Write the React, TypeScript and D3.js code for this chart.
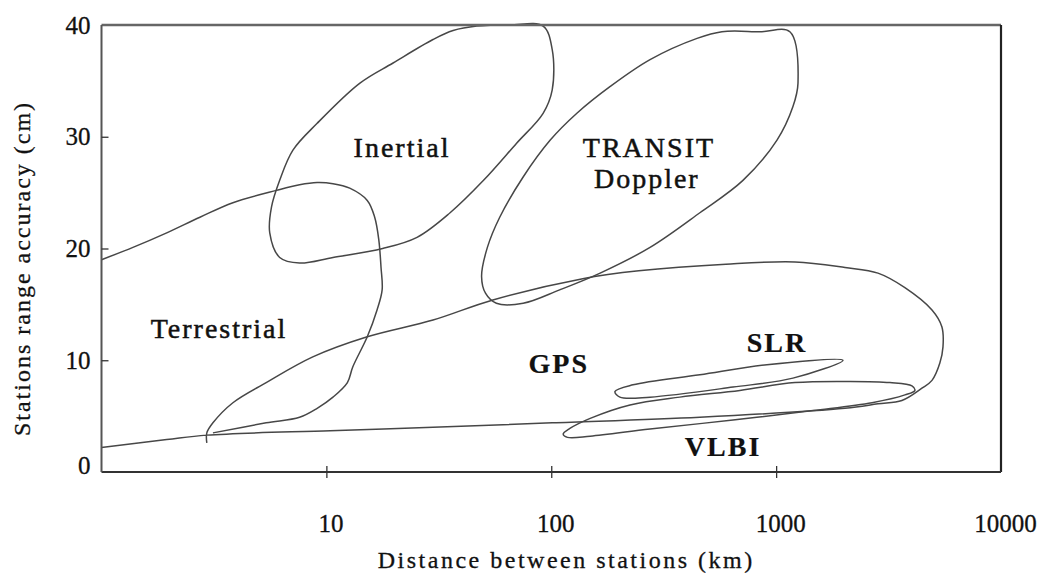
import * as d3 from 'd3'
import { useEffect, useRef } from 'react'

// [distance between stations (km), range accuracy (cm)]
type Pt = [number, number]

const xTickValues = [10, 100, 1000, 10000]
const xTickLabels = ['10', '100', '1000', '10000']
const yTickValues = [0, 10, 20, 30, 40]
const yTickLabels = ['0', '10', '20', '30', '40']

// closed loops
const inertial: Pt[] = [
  [36.6, 39.5], [46.7, 39.9], [65.5, 40.0], [92, 39.9], [101, 37.8], [101, 34.2],
  [92, 32.1], [70, 29.4], [50, 26.1], [35.5, 23.2], [25.3, 21.0], [17.8, 20.0],
  [10.7, 19.2], [7.6, 18.7], [6.2, 19.2], [5.6, 21.4], [5.7, 23.7], [6.2, 26.1],
  [7.1, 28.8], [9.1, 31.2], [14.1, 34.8], [19.8, 36.6], [29.8, 38.7],
]
const transit: Pt[] = [
  [1151, 39.4], [1251, 34.8], [1188, 32.7], [1009, 29.7], [712, 26.1], [458, 23.2],
  [275, 20.1], [165, 17.8], [109, 16.3], [75, 15.1], [57, 15.1], [51, 16.0],
  [49, 17.5], [52, 20.1], [59, 22.8], [75, 26.4], [99, 29.7], [130, 32.1],
  [183, 34.5], [275, 36.9], [445, 38.8], [574, 39.4], [850, 39.4],
]
const slr: Pt[] = [
  [192, 7.2], [231, 7.8], [458, 8.7], [910, 9.6], [1982, 10.0], [1188, 8.4],
  [643, 7.6], [275, 6.7], [202, 6.7],
]
const vlbi: Pt[] = [
  [113, 3.4], [121, 3.9], [149, 4.8], [224, 6.0], [373, 6.7], [690, 7.3],
  [1213, 8.0], [2128, 8.1], [3206, 8.0], [4018, 7.7], [4140, 7.3], [3740, 6.9],
  [2670, 6.2], [1460, 5.5], [643, 4.65], [275, 3.85], [149, 3.2], [118, 3.1],
]

// open curves
const terrestrial: Pt[] = [
  [1, 19.0], [1.38, 20.1], [1.95, 21.4], [2.74, 22.8], [3.84, 24.1], [6.0, 25.2],
  [7.6, 25.7], [9.1, 25.9], [10.7, 25.8], [12.7, 25.4], [15.2, 24.3], [16.4, 22.8],
  [17.1, 20.8], [17.5, 18.3], [17.7, 16.3], [16.8, 14.5], [15.2, 12.1], [13.1, 9.4],
  [12.4, 8.0], [10.7, 6.7], [9.1, 5.7], [7.6, 4.9], [5.4, 4.4], [3.13, 3.5],
]
const gps: Pt[] = [
  [1, 2.2], [1.95, 2.9], [2.94, 3.3], [10.4, 3.7], [29.8, 4.0], [101, 4.4],
  [458, 4.9], [2024, 5.7], [2837, 6.1], [3625, 6.4], [4450, 7.5], [4933, 8.2],
  [5346, 9.75], [5521, 11.2], [5458, 13.0], [4933, 14.5], [3738, 16.5], [2837, 17.8],
  [2024, 18.3], [1213, 18.8], [598, 18.6], [245, 18.0], [138, 17.3], [55, 15.4],
  [29.8, 13.6], [15.2, 12.1], [8.7, 10.3], [5.4, 8.0], [3.84, 6.2], [3.13, 4.4],
  [2.94, 3.5], [2.94, 2.6],
]

const labelNames = ['Inertial', 'TRANSIT', 'Doppler', 'Terrestrial', 'GPS', 'SLR', 'VLBI']
const labelAt: Pt[] = [
  [21.7, 28.2], [272, 28.2], [266, 25.4], [3.33, 12.0], [108, 8.86], [1009, 10.74], [581, 1.43],
]

const FONT = '"Liberation Serif", "Times New Roman", serif'

export default function App() {
  const width = 1045
  const height = 574
  const marginLeft = 101.5
  const marginRight = 44
  const marginTop = 25
  const marginBottom = 102

  const x = d3.scaleLog([1, 10000], [marginLeft, width - marginRight])
  const y = d3.scaleLinear([0, 40], [height - marginBottom, marginTop])

  const open = d3.line<Pt>().x((d) => x(d[0])).y((d) => y(d[1])).curve(d3.curveCatmullRom.alpha(0.5))
  const closed = d3.line<Pt>().x((d) => x(d[0])).y((d) => y(d[1])).curve(d3.curveCatmullRomClosed.alpha(0.5))

  const gx = useRef<SVGGElement>(null)
  const gy = useRef<SVGGElement>(null)

  useEffect(() => {
    const g = d3.select(gx.current as SVGGElement)
    g.call(
      d3.axisBottom(x).tickValues(xTickValues).tickSize(6).tickPadding(36)
        .tickFormat((_, i) => xTickLabels[i])
    )
    g.select('.domain').remove()
    g.attr('font-family', FONT).attr('font-size', 25)
    g.selectAll('.tick line').attr('y1', -6).attr('stroke', '#333').attr('stroke-width', 1.3)
    g.selectAll('.tick text').attr('fill', '#111').attr('stroke', '#111').attr('stroke-width', 0.3).attr('dx', 4)
    g.selectAll('.tick').filter((d) => d === 10000).select('line').remove()
  }, [])

  useEffect(() => {
    const g = d3.select(gy.current as SVGGElement)
    g.call(
      d3.axisLeft(y).tickValues(yTickValues).tickSize(7).tickPadding(6)
        .tickFormat((_, i) => yTickLabels[i])
    )
    g.select('.domain').remove()
    g.attr('font-family', FONT).attr('font-size', 25)
    g.selectAll('.tick line').attr('x2', 7).attr('stroke', '#333').attr('stroke-width', 1.3)
    g.selectAll('.tick').filter((d) => d === 0 || d === 40).select('line').remove()
    g.selectAll('.tick text').attr('fill', '#111').attr('stroke', '#111').attr('stroke-width', 0.3).attr('x', -11)
    g.selectAll('.tick').filter((d) => d === 0).select('text').attr('dy', '0.05em')
  }, [])

  const [x0, x1] = x.range()
  const [y0, y1] = y.range()
  const boldSet = new Set(['GPS', 'SLR', 'VLBI'])

  return (
    <svg width={width} height={height} style={{ position: 'absolute', left: 0, top: 0, background: '#fff' }}>
      <g fill="none" stroke="#474747" strokeWidth={1.5} strokeLinejoin="round">
        <path d={open(terrestrial) as string} />
        <path d={open(gps) as string} />
        <path d={closed(inertial) as string} />
        <path d={closed(transit) as string} />
        <path d={closed(slr) as string} />
        <path d={closed(vlbi) as string} />
      </g>

      <line x1={x0} x2={x1} y1={y1} y2={y1} stroke="#666" strokeWidth={2.5} />
      <line x1={x1} x2={x1} y1={y1} y2={y0} stroke="#222" strokeWidth={2.2} />
      <line x1={x0} x2={x1} y1={y0} y2={y0} stroke="#333" strokeWidth={2.2} />
      <line x1={x0} x2={x0} y1={y1} y2={y0} stroke="#555" strokeWidth={2} />

      <g ref={gx} transform={`translate(0,${y0})`} />
      <g ref={gy} transform={`translate(${x0},0)`} />

      <g fontFamily={FONT} fontSize={28} fill="#111" stroke="#111" textAnchor="middle" letterSpacing={2}>
        {labelNames.map((name, i) => (
          <text
            key={name}
            x={x(labelAt[i][0])}
            y={y(labelAt[i][1])}
            fontWeight={boldSet.has(name) ? 'bold' : 'normal'}
            strokeWidth={boldSet.has(name) ? 0.2 : 0.5}
          >
            {name}
          </text>
        ))}
      </g>

      <text
        x={(x0 + x1) / 2 + 15}
        y={height - 6}
        textAnchor="middle"
        fontFamily={FONT}
        fontSize={24}
        letterSpacing={2.5}
        fill="#111"
        stroke="#111"
        strokeWidth={0.3}
      >
        Distance between stations (km)
      </text>
      <text
        transform={`translate(30,${(y0 + y1) / 2 + 20}) rotate(-90)`}
        textAnchor="middle"
        fontFamily={FONT}
        fontSize={24}
        letterSpacing={2}
        fill="#111"
        stroke="#111"
        strokeWidth={0.3}
      >
        Stations range accuracy (cm)
      </text>
    </svg>
  )
}
